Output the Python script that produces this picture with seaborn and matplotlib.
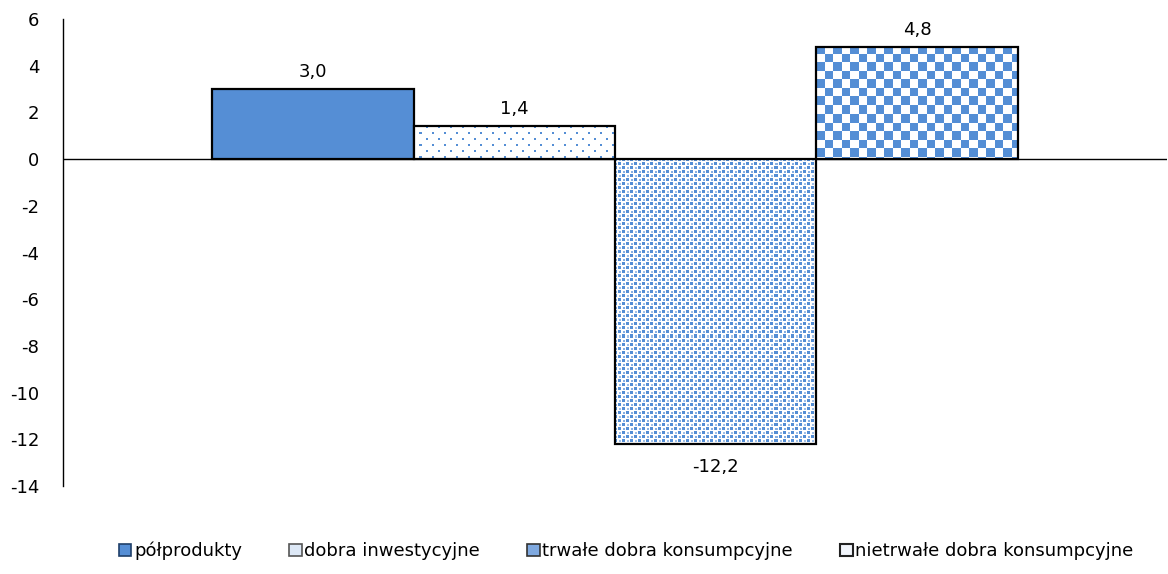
import numpy as np
import pandas as pd
import matplotlib
matplotlib.use("Agg")
import matplotlib.pyplot as plt
import seaborn as sns
from matplotlib.patches import Patch, Rectangle

series = ["półprodukty", "dobra inwestycyjne", "trwałe dobra konsumpcyjne", "nietrwałe dobra konsumpcyjne"]
values = [3.0, 1.4, -12.2, 4.8]
yticks = list(range(-14, 7, 2))

BLUE = "#558ED5"

sns.set_style("white")
plt.rcParams["font.family"] = "sans-serif"
plt.rcParams["font.sans-serif"] = ["DejaVu Sans"]
plt.rcParams["text.color"] = "black"
plt.rcParams["ytick.color"] = "black"

df = pd.DataFrame({"grupa": [""] * len(series), "seria": series, "wartosc": values})

fig = plt.figure(figsize=(11.68, 5.74), dpi=100)
ax = fig.add_axes([0.054, 0.153, 0.945, 0.814])
sns.barplot(data=df, x="grupa", y="wartosc", hue="seria", hue_order=series,
            width=0.73, palette=[BLUE] * 4, saturation=1, legend=False, ax=ax,
            errorbar=None)

ax.set_ylim(-14, 6)
ax.set_xlim(-0.5, 0.5)
ax.set_yticks(yticks)
ax.set_yticklabels([str(t) for t in yticks])
ax.set_xticks([])
ax.set_xlabel("")
ax.set_ylabel("")
ax.tick_params(axis="y", length=0, labelsize=13, pad=17, labelcolor="black")
for s in ["top", "right", "bottom"]:
    ax.spines[s].set_visible(False)
ax.spines["left"].set_color("black")
ax.spines["left"].set_linewidth(1)
ax.axhline(0, color="black", lw=1, zorder=1)

fig.canvas.draw()

# texture tiles: 1 = blue, fractions = lighter blue, 0 = white
SPARSE_TILE = np.zeros((12, 12))
SPARSE_TILE[0:2, 0:2] = 1
SPARSE_TILE[6:8, 6:8] = 1

DENSE_TILE = np.zeros((8, 8))
DENSE_TILE[0:3, 0:3] = 1
DENSE_TILE[4:7, 4:7] = 1
DENSE_TILE[1:3, 5:7] = 0.55
DENSE_TILE[5:7, 1:3] = 0.7


def pattern_image(kind, h, w):
    yy, xx = np.mgrid[0:h, 0:w]
    if kind == "checker":
        cell = 8.5
        a = (((np.floor(xx / cell) + np.floor(yy / cell)) % 2) == 0).astype(float)
    else:
        tile = SPARSE_TILE if kind == "sparse" else DENSE_TILE
        a = tile[yy % tile.shape[0], xx % tile.shape[1]]
    rgb = np.array(matplotlib.colors.to_rgb(BLUE))
    return 1 - a[..., None] * (1 - rgb[None, None, :])


kinds = [None, "sparse", "dense", "checker"]
inv = ax.transData.inverted()
patches = list(ax.patches)
for i, p in enumerate(patches):
    x0, y0 = p.get_xy()
    w, h = p.get_width(), p.get_height()
    if i == 0:
        p.set_edgecolor("black")
        p.set_linewidth(1.6)
    else:
        p.set_facecolor("white")
        p.set_linewidth(0)
        bb = p.get_window_extent()
        px0, px1 = np.floor(bb.x0), np.ceil(bb.x1)
        py0, py1 = np.floor(bb.y0), np.ceil(bb.y1)
        img = pattern_image(kinds[i], int(py1 - py0), int(px1 - px0))
        (dx0, dy0), (dx1, dy1) = inv.transform([(px0, py0), (px1, py1)])
        im = ax.imshow(img, extent=[dx0, dx1, dy0, dy1], origin="upper",
                       interpolation="nearest", aspect="auto", zorder=2)
        im.set_clip_path(p)
        ax.add_patch(Rectangle((x0, y0), w, h, fill=False, edgecolor="black",
                               lw=1.6, zorder=3))
    lab = f"{values[i]:.1f}".replace(".", ",")
    yv = values[i]
    ax.annotate(lab, (x0 + w / 2, yv), xytext=(0, 6 if yv >= 0 else -10),
                textcoords="offset points", ha="center",
                va="bottom" if yv >= 0 else "top", fontsize=13, color="black")

ax.set_xlim(-0.5, 0.5)
ax.set_ylim(-14, 6)

handles = [
    Patch(facecolor=BLUE, edgecolor="#1f3f6a", lw=1.2),
    Patch(facecolor="#dde8f6", edgecolor="#555555", lw=1.2),
    Patch(facecolor="#7fa9e0", edgecolor="#333333", lw=1.2),
    Patch(facecolor="#f2f6fc", edgecolor="#222222", lw=1.5),
]
fig.legend(handles, series, loc="center", bbox_to_anchor=(0.536, 0.04), ncol=4,
           frameon=False, fontsize=13, handlelength=0.7, handleheight=0.7,
           handletextpad=0.15, columnspacing=2.6)

fig.savefig("out.png", dpi=100)
